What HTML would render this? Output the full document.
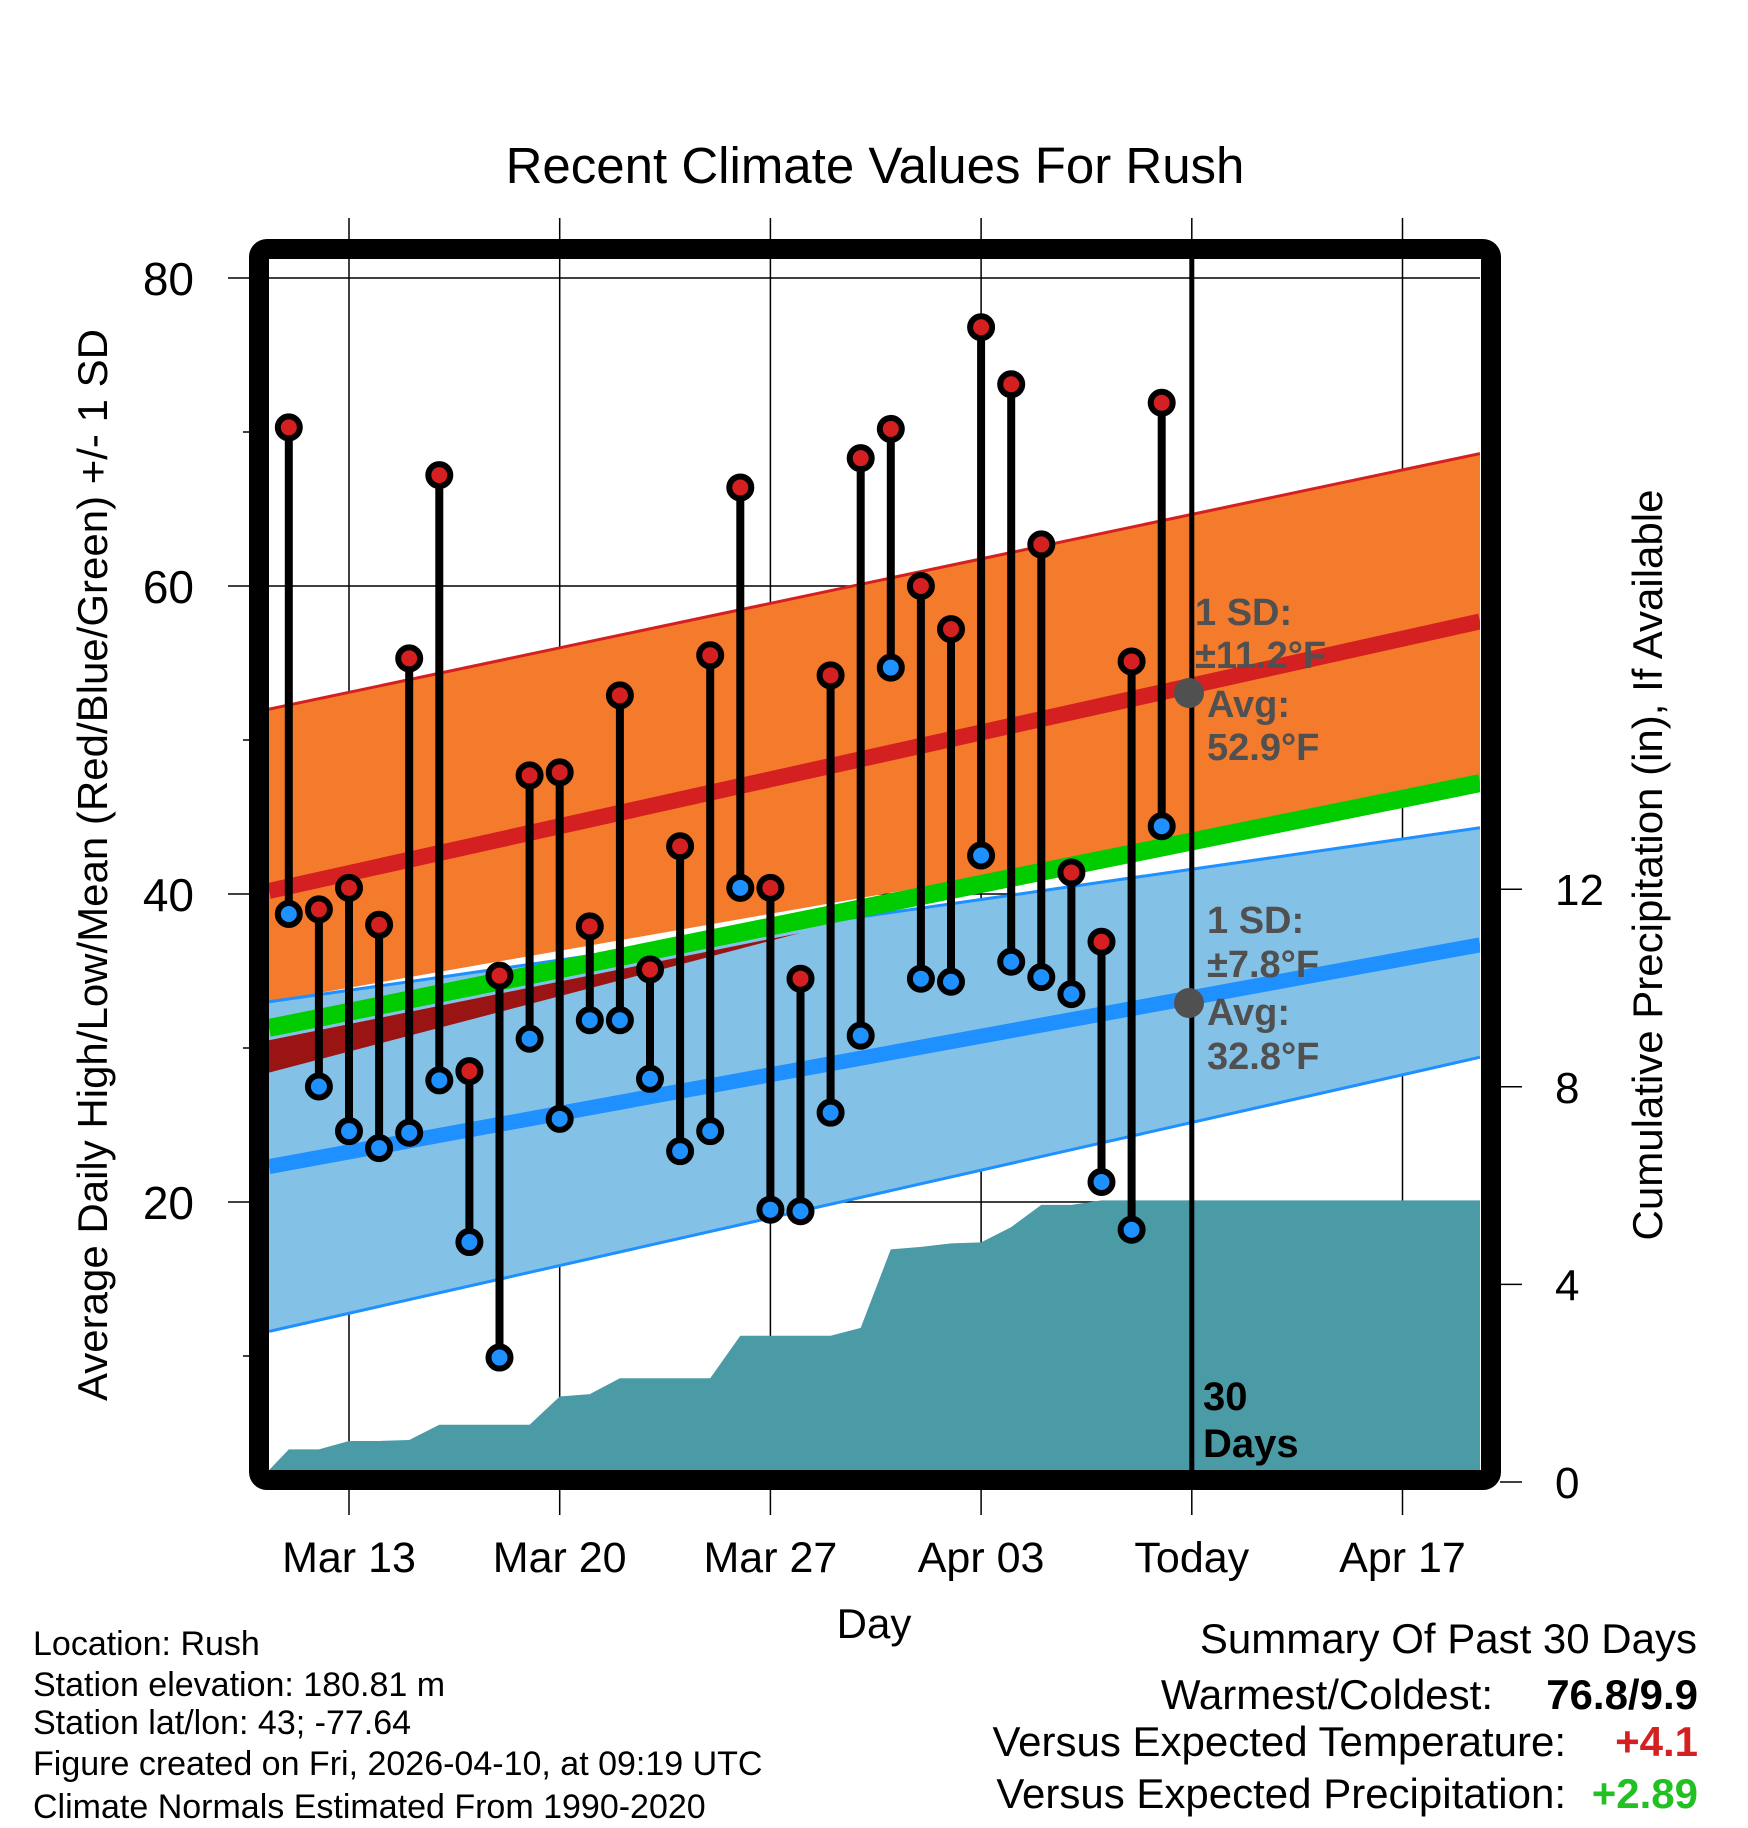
<!DOCTYPE html>
<html><head><meta charset="utf-8"><style>
html,body{margin:0;padding:0;background:#fff;}
svg{display:block;font-family:"Liberation Sans",Arial,sans-serif;}
</style></head><body>
<svg id="chart" width="1748" height="1828" viewBox="0 0 1748 1828" xmlns="http://www.w3.org/2000/svg">
<defs><clipPath id="plotclip"><rect x="269" y="259" width="1211" height="1213"/></clipPath></defs>
<rect x="0" y="0" width="1748" height="1828" fill="#fff"/>
<text x="875" y="183" font-size="51" text-anchor="middle">Recent Climate Values For Rush</text>
<g id="grid"></g>
<g id="plot" clip-path="url(#plotclip)"></g>
<g id="marks"></g>
<g id="ann">
<g fill="#505050" font-weight="bold" font-size="38">
<text x="1195" y="625">1 SD:</text>
<text x="1195" y="668">±11.2°F</text>
<circle cx="1189" cy="693" r="15"/>
<text x="1207" y="717">Avg:</text>
<text x="1207" y="760">52.9°F</text>
<text x="1207" y="933">1 SD:</text>
<text x="1207" y="977">±7.8°F</text>
<circle cx="1189" cy="1003" r="15"/>
<text x="1207" y="1025">Avg:</text>
<text x="1207" y="1069">32.8°F</text>
</g>
<text x="1203" y="1410" font-size="40" font-weight="bold">30</text>
<text x="1203" y="1457" font-size="40" font-weight="bold">Days</text>
</g>
<rect x="259" y="249" width="1232" height="1231" rx="8" fill="none" stroke="#000" stroke-width="20"/>
<g id="axes"></g>
<text transform="translate(107,865) rotate(-90)" font-size="42" text-anchor="middle">Average Daily High/Low/Mean (Red/Blue/Green) +/- 1 SD</text>
<text transform="translate(1662,865) rotate(-90)" font-size="42" text-anchor="middle">Cumulative Precipitation (in), If Available</text>
<text x="874" y="1638" font-size="42" text-anchor="middle">Day</text>
<g font-size="34">
<text x="33" y="1655">Location: Rush</text>
<text x="33" y="1696">Station elevation: 180.81 m</text>
<text x="33" y="1734">Station lat/lon: 43; -77.64</text>
<text x="33" y="1775">Figure created on Fri, 2026-04-10, at 09:19 UTC</text>
<text x="33" y="1818">Climate Normals Estimated From 1990-2020</text>
</g>
<g font-size="42" text-anchor="end">
<text x="1697" y="1653">Summary Of Past 30 Days</text>
<text x="1493" y="1709">Warmest/Coldest:</text>
<text x="1698" y="1709" font-weight="bold">76.8/9.9</text>
<text x="1566" y="1756">Versus Expected Temperature:</text>
<text x="1698" y="1756" font-weight="bold" fill="#d42020">+4.1</text>
<text x="1566" y="1808">Versus Expected Precipitation:</text>
<text x="1698" y="1808" font-weight="bold" fill="#22c022">+2.89</text>
</g>
</svg>
<script>
const highs=[70.3,39.0,40.4,38.0,55.3,67.2,28.5,34.7,47.7,47.9,37.9,52.9,35.1,43.1,55.5,66.4,40.4,34.5,54.2,68.3,70.2,60.0,57.2,76.8,73.1,62.7,41.4,36.9,55.1,71.9];
const lows=[38.7,27.5,24.6,23.5,24.5,27.9,17.4,9.9,30.6,25.4,31.8,31.8,28.0,23.3,24.6,40.4,19.5,19.4,25.8,30.8,54.7,34.5,34.3,42.5,35.6,34.6,33.5,21.3,18.2,44.4];
const precip=[0.66,0.66,0.83,0.83,0.85,1.16,1.16,1.16,1.16,1.73,1.78,2.1,2.1,2.1,2.1,2.96,2.96,2.96,2.96,3.12,4.71,4.76,4.83,4.85,5.16,5.61,5.61,5.70,5.70,5.70];
const xTickLabels=["Mar 13","Mar 20","Mar 27","Apr 03","Today","Apr 17"];
const xTickDays=[2,9,16,23,30,37];
const yTicks=[80,60,40,20];
const yMinor=[70,50,30,10];
const y2Ticks=[0,4,8,12];
// normals at left edge / right edge of plot
const highMean=[40.2,57.7];
const highUpper=[52.0,68.6];
const highLower=[33.0,46.8];
const lowMean=[22.3,36.7];
const lowUpper=[33.0,44.3];
const lowLower=[11.6,29.4];
const meanLine=[31.3,47.2];

const NS="http://www.w3.org/2000/svg";
const xD=d=>349+(d-2)*30.1;
const yT=t=>278+(80-t)*15.4;
const yP=p=>1482-p*49.4;
const XL=269,XR=1480;
function el(tag,attrs,parent){const e=document.createElementNS(NS,tag);for(const k in attrs)e.setAttribute(k,attrs[k]);parent.appendChild(e);return e;}
const grid=document.getElementById('grid'),plot=document.getElementById('plot'),marks=document.getElementById('marks'),axes=document.getElementById('axes');

yTicks.forEach(t=>{const l=el('line',{x1:228,x2:1480,y1:yT(t),y2:yT(t),stroke:'#000','stroke-width':1.5},grid);


const tx=el('text',{x:194,y:yT(t)+17,'font-size':46,'text-anchor':'end'},axes);tx.textContent=t;

});
yMinor.forEach(t=>{const l=el('line',{x1:243,x2:255,y1:yT(t),y2:yT(t),stroke:'#000','stroke-width':1.5},axes);

});
xTickDays.forEach((d,i)=>{const l=el('line',{x1:xD(d),x2:xD(d),y1:218,y2:1515,stroke:'#000','stroke-width':1.5},grid);


const tx=el('text',{x:xD(d),y:1572,'font-size':43,'text-anchor':'middle'},axes);tx.textContent=xTickLabels[i];

});
y2Ticks.forEach(p=>{const l=el('line',{x1:1500,x2:1522,y1:yP(p),y2:yP(p),stroke:'#000','stroke-width':1.5},axes);


const tx=el('text',{x:1555,y:yP(p)+16,'font-size':44},axes);tx.textContent=p;

});

function band(up,lo,fill,name){const p=el('polygon',{points:`${XL},${yT(up[0])} ${XR},${yT(up[1])} ${XR},${yT(lo[1])} ${XL},${yT(lo[0])}`,fill:fill},plot);

return p;}
function line(v,stroke,w,name){const l=el('line',{x1:XL,y1:yT(v[0]),x2:XR,y2:yT(v[1]),stroke:stroke,'stroke-width':w},plot);

}

band(highUpper,highLower,'#f47a2c','high-sd-band');
line(highUpper,'#d42020',3,'high-upper-line');
band(lowUpper,lowLower,'#84c1e6','low-sd-band');
line(lowUpper,'#1e90ff',3,'low-upper-line');
line(lowLower,'#1e90ff',3,'low-lower-line');
const mAt=x=>meanLine[0]+(meanLine[1]-meanLine[0])*(x-XL)/(XR-XL);
const dr=el('polygon',{points:`${XL},${yT(mAt(XL)-0.8)} ${xD(17)},${yT(mAt(xD(17))-0.8)} ${XL},${yT(mAt(XL)-2.9)}`,fill:'#9b1414'},plot);


line(meanLine,'#00cc00',18,'mean-line');
line(highMean,'#d42020',16,'high-mean-line');
line(lowMean,'#1e90ff',15,'low-mean-line');

let pts=`${XL},${yP(0)} ${XL},${yP(0.24)}`;
precip.forEach((p,i)=>{pts+=` ${xD(i)},${yP(p)}`;});
pts+=` ${XR},${yP(precip[precip.length-1])} ${XR},${yP(0)}`;
const pa=el('polygon',{points:pts,fill:'#4a9ba5'},plot);



const tl=el('line',{x1:xD(30),x2:xD(30),y1:259,y2:1472,stroke:'#000','stroke-width':5},marks);



highs.forEach((h,i)=>{
 const x=xD(i);
 const s=el('line',{x1:x,x2:x,y1:yT(h),y2:yT(lows[i]),stroke:'#000','stroke-width':8},marks);
 
 
 const c1=el('circle',{cx:x,cy:yT(h),r:11,fill:'#d42020',stroke:'#000','stroke-width':6},marks);
 
 
 const c2=el('circle',{cx:x,cy:yT(lows[i]),r:11,fill:'#1e90ff',stroke:'#000','stroke-width':6},marks);
 
 
});
document.getElementById('chart').appendChild(document.getElementById('ann'));
</script>
</body></html>
